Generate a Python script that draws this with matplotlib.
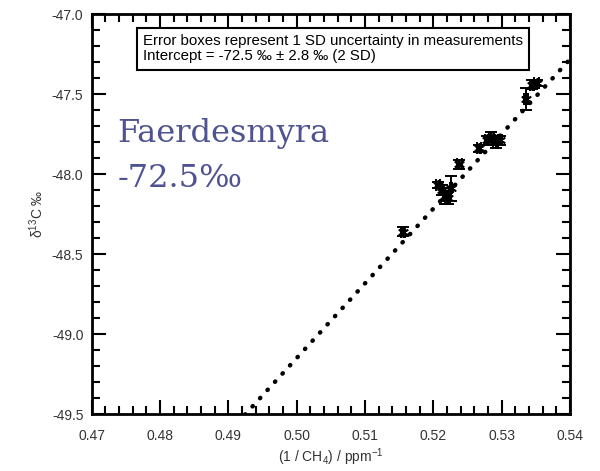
import numpy as np
import matplotlib
matplotlib.use("Agg")
import matplotlib.pyplot as plt
from matplotlib.ticker import MultipleLocator

# inverse concentration (ppm^-1) and delta13C (permil) with 1 SD errors
inv_ch4 = [0.5156, 0.5207, 0.5212, 0.5217, 0.5221, 0.5226, 0.5238,
           0.5267, 0.5279, 0.5285, 0.5291, 0.5297, 0.5336, 0.5345, 0.5351]
d13c = [-48.36, -48.07, -48.10, -48.14, -48.15, -48.09, -47.94,
        -47.84, -47.79, -47.77, -47.80, -47.79, -47.53, -47.44, -47.43]
inv_err = [0.0003, 0.0003, 0.0003, 0.0003, 0.0003, 0.0002, 0.0004,
           0.0003, 0.0003, 0.0004, 0.0003, 0.0003, 0.0003, 0.0003, 0.0003]
d13c_err = [0.03, 0.02, 0.03, 0.05, 0.04, 0.08, 0.03,
            0.02, 0.03, 0.03, 0.04, 0.03, 0.07, 0.03, 0.02]

intercept = -72.5
slope = 46.7

plt.rcParams['font.family'] = ['Liberation Sans', 'DejaVu Sans']
plt.rcParams['mathtext.default'] = 'regular'

fig = plt.figure(figsize=(6, 4.71), dpi=100)
ax = fig.add_axes([0.153, 0.121, 0.797, 0.849])

xs = np.linspace(0.47, 0.54, 200)
ax.plot(xs, intercept + slope * xs, color='black', linestyle=(0, (0.1, 2.4)),
        linewidth=3.2, dash_capstyle='round', zorder=2)

ax.errorbar(inv_ch4, d13c, xerr=inv_err, yerr=d13c_err, fmt='none',
            ecolor='black', elinewidth=1.4, capsize=4, capthick=1.4, zorder=3)
ax.scatter(inv_ch4, d13c, marker=(6, 2, 0), s=45, color='black',
           linewidths=1.3, zorder=4)

ax.set_xlim(0.47, 0.54)
ax.set_ylim(-49.5, -47.0)
ax.xaxis.set_major_locator(MultipleLocator(0.01))
ax.xaxis.set_minor_locator(MultipleLocator(0.002))
ax.yaxis.set_major_locator(MultipleLocator(0.5))
ax.yaxis.set_minor_locator(MultipleLocator(0.1))
ax.xaxis.set_major_formatter(plt.FormatStrFormatter('%.2f'))
ax.yaxis.set_major_formatter(plt.FormatStrFormatter('%.1f'))
ax.tick_params(which='both', direction='in', top=True, right=True,
               width=1.5, color='black', labelsize=10, labelcolor='#333333')
ax.tick_params(which='major', length=10)
ax.tick_params(which='minor', length=6)
ax.tick_params(axis='x', which='major', pad=11)
ax.tick_params(axis='y', which='major', pad=6)
for s in ax.spines.values():
    s.set_linewidth(2)

ax.set_xlabel('(1 / CH$_4$) / ppm$^{-1}$', fontsize=10, color='#333333',
              labelpad=2)
ax.set_ylabel('δ$^{13}$C ‰', fontsize=10, color='#333333', labelpad=4)

ax.text(0.107, 0.95,
        'Error boxes represent 1 SD uncertainty in measurements\n'
        'Intercept = -72.5 ‰ ± 2.8 ‰ (2 SD)',
        transform=ax.transAxes, fontsize=10.8, va='top', ha='left',
        linespacing=1.1,
        bbox=dict(boxstyle='square,pad=0.42', facecolor='white',
                  edgecolor='black', linewidth=1.5))

site_color = '#4f5391'
ax.text(0.054, 0.68, 'Faerdesmyra', transform=ax.transAxes,
        fontsize=23, family='DejaVu Serif', color=site_color,
        va='baseline', ha='left')
ax.text(0.054, 0.5675, '-72.5‰', transform=ax.transAxes,
        fontsize=23, family='DejaVu Serif', color=site_color,
        va='baseline', ha='left')

fig.savefig('out.png', dpi=100)
